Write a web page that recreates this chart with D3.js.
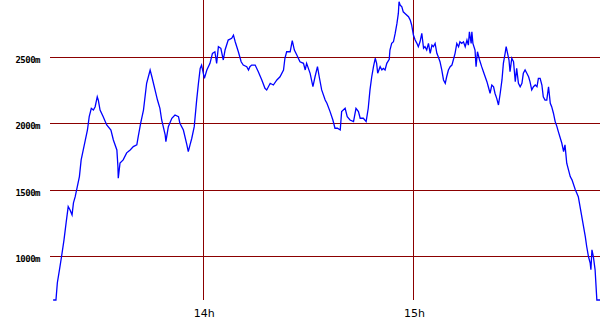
<!DOCTYPE html>
<html>
<head>
<meta charset="utf-8">
<script src="https://cdn.jsdelivr.net/npm/d3@7"></script>
<style>
  body { margin: 0; background: #fff; }
  svg { display: block; }
</style>
</head>
<body>
<svg id="chart"></svg>
<script>
// minutes after 13:00
const minutes = [
  17.1, 17.9, 18.3, 18.9, 19.5, 20.2, 20.8, 21.4, 21.9, 22.5, 22.9, 23.4, 24.0, 24.6, 25.1, 25.7,
  26.3, 26.9, 27.4, 28.0, 28.6, 29.1, 29.7, 30.0, 30.5, 31.4, 32.4, 33.6, 34.3, 35.3, 35.6, 35.7,
  36.2, 37.1, 38.1, 39.1, 40.0, 41.0, 41.4, 42.1, 42.9, 43.8, 44.8, 45.3, 46.2, 46.9, 47.6,
  48.1, 49.1, 49.3, 50.0, 51.0, 51.9, 52.9, 53.3, 54.3, 55.3, 55.7, 56.2, 56.7, 57.4, 58.1,
  58.6, 59.1, 59.5, 60.3, 61.0, 61.9, 62.6, 63.3, 63.8, 64.3, 65.0, 65.7, 66.2, 67.1, 68.1,
  68.6, 69.1, 70.0, 70.8, 71.4, 72.4, 72.9, 73.3, 73.8, 74.8, 75.7, 76.7, 77.6,
  78.1, 79.1, 80.0, 81.0, 81.9, 82.9, 83.3, 83.8, 84.8, 85.4, 86.0, 86.7, 87.6, 88.6, 89.1,
  89.5, 90.5, 91.3, 91.9, 92.6, 93.1, 93.8, 94.8, 95.3, 96.2, 97.0, 97.6, 98.3, 99.1, 99.5,
  100.5, 101.1, 101.9, 102.9, 103.6, 104.3, 104.8, 105.7, 106.5, 107.1, 107.6,
  108.1, 108.6, 109.1, 109.5, 109.8, 110.5, 111.0, 111.4, 111.9, 112.4, 113.1, 113.3, 113.8,
  114.3, 114.8, 115.3, 115.7, 115.9, 116.2, 116.7, 117.1, 117.6, 118.6, 119.1, 119.5, 120.0,
  120.5, 121.0, 121.4, 121.9, 122.4, 122.9, 123.3, 123.8, 124.3, 124.8, 125.3, 125.7, 126.2,
  126.7, 127.1, 127.6, 128.1, 128.6, 129.1, 129.5, 130.0, 130.5, 131.0, 131.4, 131.9, 132.4,
  132.9, 133.3, 133.8, 134.3, 134.8, 135.3, 135.7, 136.0, 136.5, 136.7, 137.0,
  137.6, 137.9, 138.3, 138.9, 139.5, 140.0, 140.5, 141.0, 141.4, 141.9, 142.4, 142.9, 143.3,
  143.8, 144.3, 144.8, 145.3, 145.7, 146.2, 146.5, 146.9, 147.3, 147.6, 148.1, 148.6, 149.1,
  149.5, 150.0, 150.5, 151.0, 151.4, 151.9, 152.4, 152.9, 153.3, 153.8, 154.3, 154.8, 155.3,
  155.7, 156.2, 156.7, 157.1, 157.6, 158.1, 158.6, 159.1, 159.5, 160.0, 160.5, 161.0, 161.4,
  162.4, 162.9, 163.3, 163.8, 164.3, 164.8, 165.3, 166.2, 167.1, 167.6, 168.1, 168.6, 169.1,
  169.5, 170.0, 170.5, 170.7, 171.0, 171.4, 171.9, 172.4, 173.3
];

// altitude in metres
const altitude = [
  670, 670, 800, 897, 997, 1122, 1250, 1372, 1348, 1310, 1400, 1447, 1523, 1598, 1723, 1798,
  1873, 1948, 2048, 2111, 2098, 2123, 2198, 2173, 2098, 2048, 1986, 1948, 1873, 1798, 1673, 1586,
  1700, 1723, 1776, 1798, 1823, 1836, 1898, 1999, 2098, 2299, 2399, 2348, 2249, 2173, 2111,
  2023, 1911, 1860, 1973, 2036, 2061, 2048, 1999, 1948, 1836, 1785, 1836, 1886, 1973, 2174,
  2299, 2411, 2436, 2336, 2399, 2449, 2524, 2536, 2449, 2574, 2562, 2474, 2549, 2624, 2637,
  2661, 2611, 2536, 2461, 2436, 2424, 2399, 2424, 2436, 2436, 2386, 2324, 2261,
  2249, 2299, 2286, 2324, 2348, 2399, 2487, 2536, 2536, 2619, 2549, 2511, 2461, 2449, 2399,
  2449, 2374, 2273, 2348, 2424, 2348, 2249, 2173, 2149, 2086, 2023, 1961, 1961, 1948, 2086,
  2111, 2048, 2023, 2011, 2111, 2086, 2036, 2036, 2011, 2111, 2249,
  2348, 2424, 2487, 2449, 2374, 2424, 2399, 2411, 2399, 2449, 2479, 2549, 2599,
  2611, 2674, 2749, 2824, 2912, 2887, 2874, 2836, 2824, 2799, 2774, 2737, 2662,
  2624, 2599, 2574, 2611, 2674, 2562, 2574, 2549, 2599, 2524, 2586, 2574, 2599,
  2524, 2499, 2461, 2399, 2324, 2299, 2348, 2399, 2424, 2436, 2474, 2524, 2599,
  2574, 2611, 2599, 2611, 2574, 2624, 2586, 2686, 2599, 2686, 2599,
  2549, 2424, 2536, 2474, 2424, 2386, 2348, 2311, 2273, 2224, 2286, 2273, 2224,
  2186, 2136, 2224, 2324, 2449, 2524, 2574, 2524, 2474, 2386, 2487, 2461, 2311,
  2411, 2299, 2273, 2299, 2374, 2399, 2374, 2348, 2311, 2249, 2273, 2286, 2273,
  2336, 2336, 2286, 2198, 2173, 2173, 2273, 2149, 2123, 2074, 2011, 1973, 1936,
  1848, 1785, 1836, 1698, 1648, 1598, 1573, 1503, 1447, 1372, 1297, 1222, 1147,
  1072, 997, 947, 897, 1047, 997, 897, 670, 670
];

const altTicks = [1000, 1500, 2000, 2500];
const hourTicks = [14, 15];
const hourLabels = ["14h", "15h"];

const width = 600, height = 330;
const plot = { left: 50, right: 600, top: 0, bottom: 300 };

const svg = d3.select("#chart")
  .attr("width", width)
  .attr("height", height);

const day = (h, m) => new Date(2000, 0, 1, h, 0, 0, 0).getTime() + m * 60000;

const data = minutes.map((m, i) => ({ t: new Date(day(13, m)), alt: altitude[i] }));

// SCALES
const xScale = d3.scaleTime()
  .domain([new Date(day(13, 16.2)), new Date(day(13, 173.3))])
  .range([plot.left, plot.right]);

const yScale = d3.scaleLinear()
  .domain([670, 2925])
  .range([plot.bottom, plot.top]);

// GRID
svg.selectAll("line.h-grid")
  .data(altTicks)
  .join("line")
  .attr("class", "h-grid")
  .attr("x1", plot.left)
  .attr("x2", plot.right)
  .attr("y1", d => Math.round(yScale(d)) + 0.5)
  .attr("y2", d => Math.round(yScale(d)) + 0.5)
  .attr("stroke", "#8b0000")
  .attr("stroke-width", 1);

svg.selectAll("line.v-grid")
  .data(hourTicks)
  .join("line")
  .attr("class", "v-grid")
  .attr("x1", d => Math.round(xScale(new Date(day(d, 0)))) + 0.5)
  .attr("x2", d => Math.round(xScale(new Date(day(d, 0)))) + 0.5)
  .attr("y1", plot.top)
  .attr("y2", plot.bottom)
  .attr("stroke", "#8b0000")
  .attr("stroke-width", 1);

// AXIS LABELS
svg.selectAll("text.y-label")
  .data(altTicks)
  .join("text")
  .attr("class", "y-label")
  .attr("x", 40)
  .attr("y", d => yScale(d) + 6)
  .attr("text-anchor", "end")
  .attr("font-family", "DejaVu Sans Mono, monospace")
  .attr("font-size", 9)
  .attr("font-weight", "bold")
  .attr("letter-spacing", -0.5)
  .attr("fill", "#000")
  .text(d => d + "m");

svg.selectAll("text.x-label")
  .data(hourTicks)
  .join("text")
  .attr("class", "x-label")
  .attr("x", d => xScale(new Date(day(d, 0))) + 1)
  .attr("y", 317)
  .attr("text-anchor", "middle")
  .attr("font-family", "DejaVu Sans, sans-serif")
  .attr("font-size", 11)
  .attr("fill", "#000")
  .text((d, i) => hourLabels[i]);

// ALTITUDE LINE
const line = d3.line()
  .x(d => xScale(d.t))
  .y(d => yScale(d.alt));

svg.append("path")
  .datum(data)
  .attr("d", line)
  .attr("fill", "none")
  .attr("stroke", "#0000ff")
  .attr("stroke-width", 1.3);
</script>
</body>
</html>
